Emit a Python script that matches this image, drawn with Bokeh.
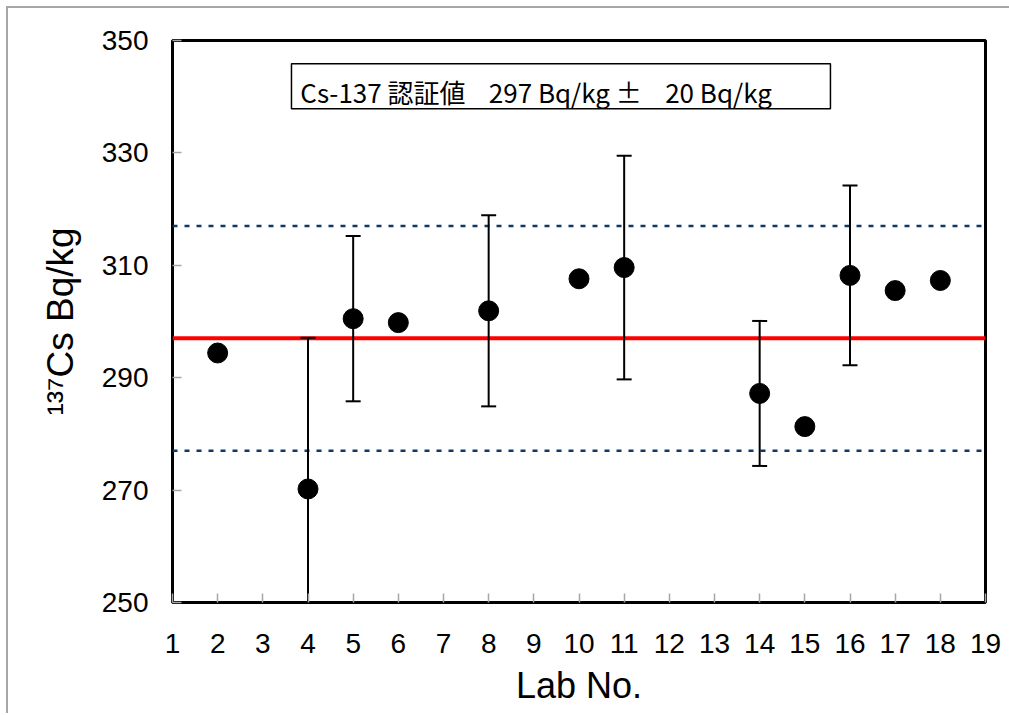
from bokeh.plotting import figure
from bokeh.models import Span, BoxAnnotation, Label
from bokeh.embed import file_html
from bokeh.resources import INLINE

# Laboratory results for Cs-137 (Bq/kg)
labs_single = [2, 6, 10, 15, 17, 18]
values_single = [294.4, 299.8, 307.6, 281.3, 305.5, 307.3]

labs_with_unc = [4, 5, 8, 11, 14, 16]
values_with_unc = [270.2, 300.5, 301.9, 309.6, 287.2, 308.2]
uncertainties = [26.9, 14.7, 17.0, 19.9, 12.9, 16.0]

# Certified reference value and its tolerance
certified_value = 297
certified_tol = 20

x_ticks = list(range(1, 20))
y_ticks = [250, 270, 290, 310, 330, 350]

caption = "Cs-137 認証値\u00a0\u00a0\u00a0\u00a0297 Bq/kg ±\u00a0\u00a0\u00a0\u00a020 Bq/kg"

lower = [v - u for v, u in zip(values_with_unc, uncertainties)]
upper = [v + u for v, u in zip(values_with_unc, uncertainties)]

p = figure(
    width=1006, height=707,
    x_range=(1, 19), y_range=(250, 350),
    output_backend="svg", toolbar_location=None,
    min_border_left=164, min_border_right=29,
    min_border_top=32, min_border_bottom=113,
)
# Grey chart-area edge on the top and left sides
p.styles = {
    "margin-left": "8px", "margin-top": "8px",
    "box-shadow": "-2px -2px 0px 0px #a6a6a6",
}

p.background_fill_color = "white"
p.border_fill_color = "white"
p.outline_line_color = "black"
p.outline_line_width = 3
p.grid.visible = False

tick_font = "Liberation Sans"
for ax in (p.xaxis[0], p.yaxis[0]):
    ax.axis_line_color = None
    ax.major_tick_in = 9
    ax.major_tick_out = 0
    ax.major_tick_line_color = "#a6a6a6"
    ax.major_tick_line_width = 1.5
    ax.minor_tick_line_color = None
    ax.major_label_text_font = tick_font
    ax.major_label_text_font_size = "28px"
    ax.major_label_text_color = "black"
    ax.axis_label_text_font = tick_font
    ax.axis_label_text_font_style = "normal"
    ax.axis_label_text_color = "black"
    ax.axis_label_text_font_size = "36px"

p.xaxis.ticker = x_ticks
p.yaxis.ticker = y_ticks
p.xaxis.major_label_standoff = 31
p.yaxis.major_label_standoff = 24
p.xaxis.axis_label = "Lab No."
p.xaxis.axis_label_standoff = 9
p.yaxis.axis_label = "¹³⁷Cs Bq/kg"
p.yaxis.axis_label_text_font_size = "37px"
p.yaxis.axis_label_standoff = 18

# Certified value and tolerance band limits
p.add_layout(Span(location=certified_value, dimension="width",
                  line_color="#ff0000", line_width=4, level="underlay"))
for loc in (certified_value - certified_tol, certified_value + certified_tol):
    p.add_layout(Span(location=loc, dimension="width", line_color="#0f3a66",
                      line_width=2.5, line_dash="5 7", level="underlay"))

# Error bars
p.segment(x0=labs_with_unc, y0=lower, x1=labs_with_unc, y1=upper,
          line_color="black", line_width=2)
p.scatter(labs_with_unc, upper, marker="dash", size=15,
          line_color="black", line_width=2)
p.scatter(labs_with_unc, lower, marker="dash", size=15,
          line_color="black", line_width=2)

# Measured values
p.scatter(labs_single + labs_with_unc, values_single + values_with_unc,
          size=20, fill_color="black", line_color="black")

# Caption box
p.add_layout(BoxAnnotation(left=3.634, right=15.567, top=345.85, bottom=337.85,
                           fill_color="white", fill_alpha=1.0,
                           line_color="black", line_width=1.5, line_alpha=1.0))
p.add_layout(Label(x=3.83, y=341.0, text=caption,
                   text_font="Noto Sans CJK JP", text_font_size="26px",
                   text_baseline="alphabetic", text_color="black"))

open("out.html", "w").write(file_html(p, INLINE))
